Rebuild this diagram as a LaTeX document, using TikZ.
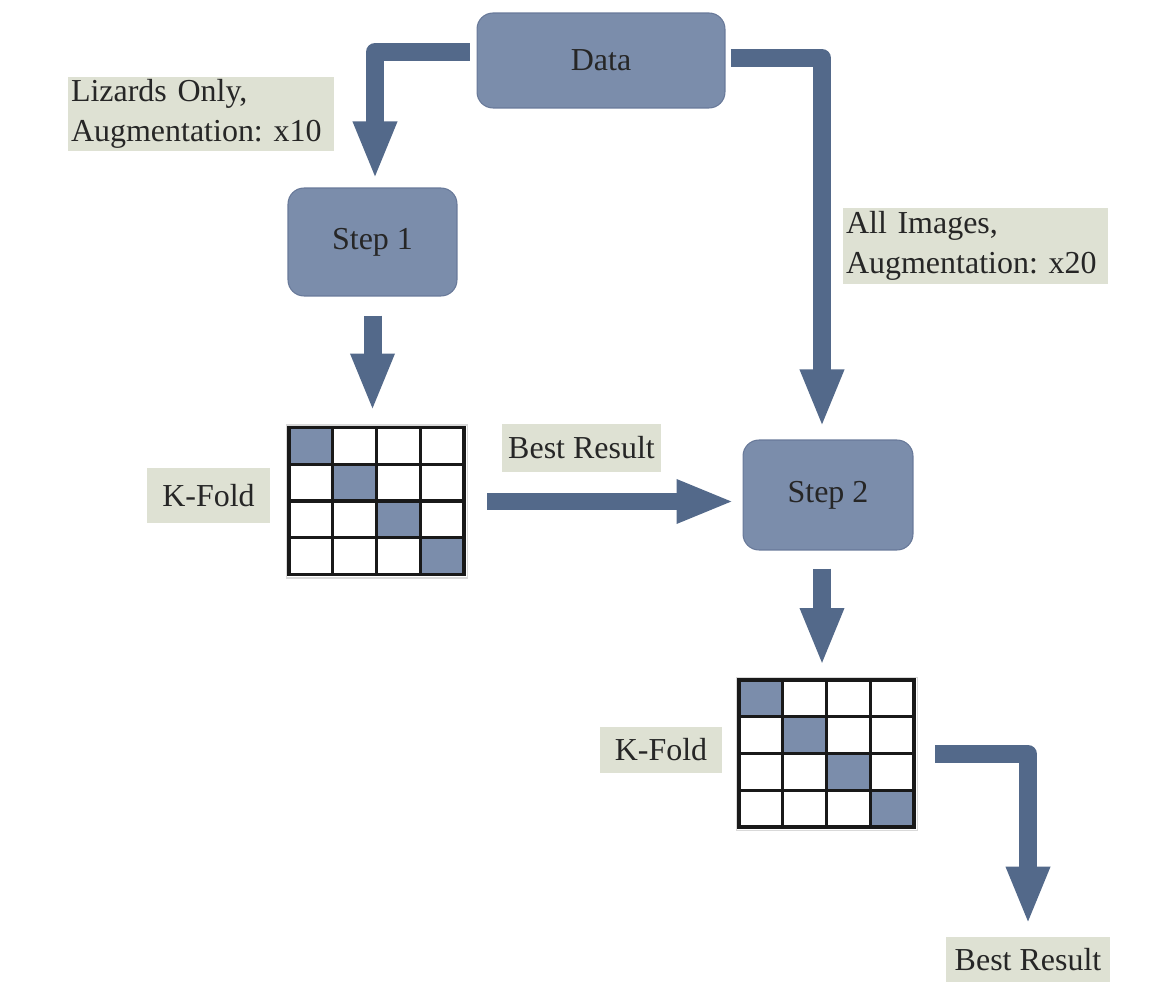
\documentclass[tikz,border=0pt]{standalone}
\usepackage{fontspec}
\setmainfont{Liberation Serif}
\usepackage{xcolor}
\usepackage{tikz}
\usetikzlibrary{arrows.meta, calc}
\definecolor{stepblue}{RGB}{123, 141, 171}
\definecolor{stepedge}{RGB}{104, 121, 153}
\definecolor{flowblue}{RGB}{83, 105, 138}
\definecolor{notebg}{RGB}{222, 225, 211}
\frenchspacing

\begin{document}
\begin{tikzpicture}[
  x=0.02cm, y=-0.02cm,
  stepbox/.style={
    rectangle, rounded corners=0.32cm, draw=stepedge, fill=stepblue,
    line width=0.6pt, text=black!85,
    font=\fontsize{18.2}{22}\selectfont
  },
  note/.style={
    rectangle, fill=notebg, inner sep=0.06cm, text=black!85,
    font=\fontsize{18.2}{22.5}\selectfont
  },
  kfold/.style={
    rectangle, draw=gray!30, line width=0.6pt, inner sep=0pt,
    minimum width=3.62cm, minimum height=3.06cm
  },
  cell/.style={fill=stepblue},
  gridline/.style={line width=1.8pt, draw=black!90, line cap=rect},
  flow/.style={
    draw=flowblue, line width=0.36cm, line join=round,
    -{Triangle[width=0.8cm, length=1.16cm]}
  },
]

\useasboundingbox (0,0) rectangle (1165,982);

\def\colL{372.5}
\def\colR{828}
\def\rowTop{60.5}
\def\rowStep{242}
\def\rowMid{495}
\def\rowLow{754}

% Process boxes
\node[stepbox, minimum width=4.96cm, minimum height=1.9cm]  (data)  at (601, \rowTop)  {Data};
\node[stepbox, minimum width=3.38cm, minimum height=2.16cm] (step1) at (\colL, \rowStep) {Step 1};
\node[stepbox, minimum width=3.4cm, minimum height=2.2cm]   (step2) at (\colR, \rowMid)  {Step 2};

% K-fold grids
\node[kfold] (grid1) at (377, 501.5) {};
\node[kfold] (grid2) at (827, \rowLow) {};

\foreach \gname in {grid1, grid2} {
  \begin{scope}[shift={($(\gname.north west)+(0.06cm,-0.06cm)$)}, x=0.875cm, y=-0.735cm]
    \foreach \k in {0,...,3}
      \fill[cell] (\k,\k) rectangle ++(1,1);
    \foreach \k in {0,...,4} {
      \draw[gridline] (\k,0) -- (\k,4);
      \draw[gridline] (0,\k) -- (4,\k);
    }
  \end{scope}
}

% Labels
\node[note, text width=5.2cm, minimum height=1.5cm, align=left]   (lizards) at (201, 114)  {Lizards Only,\\Augmentation: x10};
\node[note, text width=5.18cm, minimum height=1.52cm, align=left] (allimg)  at (975.5, 246)  {All Images,\\Augmentation: x20};
\node[note, minimum width=2.46cm, minimum height=1.1cm]  (fold1) at (208.5, 495.5) {K-Fold};
\node[note, minimum width=3.18cm, minimum height=0.96cm] (best1) at (581.5, 448)   {Best Result};
\node[note, minimum width=2.44cm, minimum height=0.92cm] (fold2) at (661, 750)     {K-Fold};
\node[note, minimum width=3.28cm, minimum height=0.9cm]  (best2) at (1028, 959.5)  {Best Result};

% 1. Data to Step 1
\draw[flow] ([xshift=-0.14cm, yshift=0.17cm]data.west) -| ([xshift=0.05cm, yshift=0.16cm]step1.north);

% 2. Data to Step 2
\draw[flow] ([xshift=0.1cm, yshift=0.05cm]data.east) -| ([xshift=-0.12cm, yshift=0.24cm]step2.north);

% 3. Step 1 to first grid
\draw[flow, shorten <=0.38cm, shorten >=0.26cm] (step1.south) -- (step1.south |- grid1.north);

% 4. First grid to Step 2
\draw[flow, shorten <=0.38cm, shorten >=0.16cm] (grid1.east) -- (grid1.east -| step2.west);

% 5. Step 2 to second grid
\coordinate (s2out) at ([xshift=-0.12cm]step2.south);
\draw[flow, shorten <=0.36cm, shorten >=0.22cm] (s2out) -- (s2out |- grid2.north);

% 6. Second grid to result
\draw[flow, shorten <=0.34cm, shorten >=0.24cm] (grid2.east) -| (best2.north);

\end{tikzpicture}
\end{document}
